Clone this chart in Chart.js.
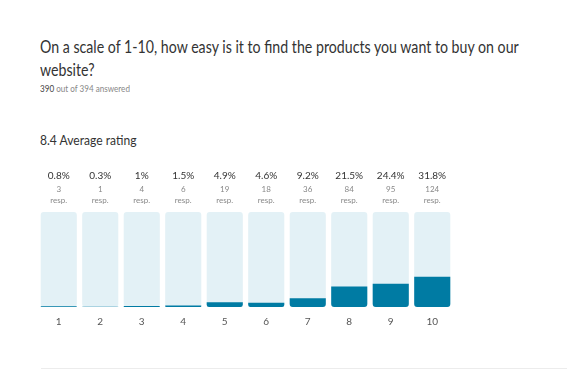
<!DOCTYPE html>
<html>
<head>
<meta charset="utf-8">
<script src="https://cdn.jsdelivr.net/npm/chart.js@4/dist/chart.umd.min.js"></script>
<style>
  html, body { margin: 0; padding: 0; background: #fff; }
  body { width: 567px; height: 370px; position: relative; overflow: hidden; font-family: "Lato", sans-serif; }
  #title { position: absolute; left: 40px; top: 35px; white-space: nowrap; font-size: 17.5px; line-height: 23px; color: #333;
           transform: scaleX(0.81); transform-origin: left top; }
  #answered { position: absolute; left: 40px; top: 83px; font-size: 9px; color: #888; transform: scaleX(0.9); transform-origin: left top; }
  #answered b { font-weight: normal; color: #444; }
  #avg { position: absolute; left: 40px; top: 132px; font-size: 13px; color: #333; transform: scaleX(0.93); transform-origin: left top; }
  #sep { position: absolute; left: 41px; right: 0; top: 368px; height: 1px; background: #ececec; }
  #chartContainer { position: absolute; left: 0; top: 0; }
</style>
</head>
<body>
<div id="title">On a scale of 1-10, how easy is it to find the products you want to buy on our<br>website?</div>
<div id="answered"><b>390</b> out of 394 answered</div>
<div id="avg">8.4 Average rating</div>
<canvas id="chartContainer" width="567" height="370"></canvas>
<div id="sep"></div>
<script>
// Дані графіка
const ratings = ["1", "2", "3", "4", "5", "6", "7", "8", "9", "10"];
const percents = [0.8, 0.3, 1, 1.5, 4.9, 4.6, 9.2, 21.5, 24.4, 31.8];
const percentLabels = ["0.8%", "0.3%", "1%", "1.5%", "4.9%", "4.6%", "9.2%", "21.5%", "24.4%", "31.8%"];
const responses = [3, 1, 4, 6, 19, 18, 36, 84, 95, 124];
const fullScale = ratings.map(() => 100);

// Підписи над стовпцями
const topLabels = {
  id: "topLabels",
  afterDraw(chart) {
    const ctx = chart.ctx;
    const x = chart.scales.x;
    ctx.save();
    ctx.textAlign = "center";
    ctx.textBaseline = "middle";
    ratings.forEach((r, i) => {
      const px = x.getPixelForValue(i);
      ctx.fillStyle = "#333";
      ctx.font = "10px Lato";
      ctx.fillText(percentLabels[i], px, 176);
      ctx.fillStyle = "#888";
      ctx.font = "8px Lato";
      ctx.fillText(String(responses[i]), px, 189);
      ctx.fillText("resp.", px, 200);
    });
    ctx.restore();
  },
};

const ctx = document.getElementById("chartContainer").getContext("2d");
window.myChart = new Chart(ctx, {
  type: "bar",
  data: {
    labels: ratings,
    datasets: [
      {
        label: "Відповіді",
        data: percents,
        backgroundColor: "#007ba3",
        borderRadius: { bottomLeft: 3, bottomRight: 3, topLeft: 0, topRight: 0 },
        borderSkipped: false,
        barPercentage: 0.87,
        categoryPercentage: 1,
        grouped: false,
        order: 0,
      },
      {
        label: "Фон",
        data: fullScale,
        backgroundColor: "#e3f1f6",
        borderRadius: 3,
        borderSkipped: false,
        barPercentage: 0.87,
        categoryPercentage: 1,
        grouped: false,
        order: 1,
      },
    ],
  },
  options: {
    responsive: false,
    animation: false,
    layout: { padding: { left: 38, right: 114, top: 212, bottom: 33 } },
    plugins: {
      legend: { display: false },
      title: { display: false },
      tooltip: { enabled: false },
    },
    scales: {
      x: {
        grid: { display: false, drawTicks: false },
        border: { display: false },
        ticks: { color: "#555", font: { family: "Lato", size: 10 }, padding: 9 },
      },
      y: { display: false, min: 0, max: 100 },
    },
  },
  plugins: [topLabels],
});
</script>
</body>
</html>
